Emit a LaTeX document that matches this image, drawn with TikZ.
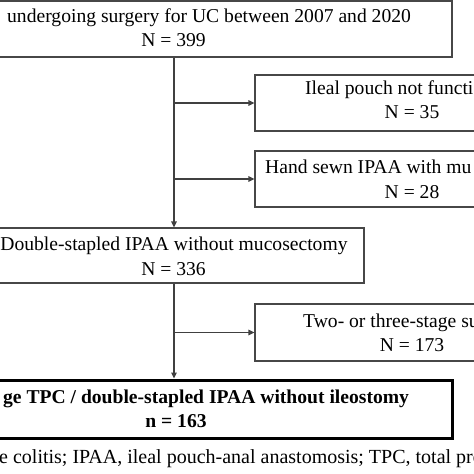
\documentclass[tikz,border=0pt]{standalone}
\usepackage{fontspec}
\setmainfont{Liberation Serif}
\usetikzlibrary{arrows.meta}
\begin{document}
\begin{tikzpicture}[x=1pt,y=-1pt,
  box/.style={draw=black!72,line width=1.2pt,rectangle,inner sep=0pt},
  boldbox/.style={draw=black,line width=3pt,rectangle,inner sep=0pt},
  txt/.style={inner sep=0pt,font=\fontsize{19.6}{23}\selectfont},
  btxt/.style={inner sep=0pt,font=\fontsize{19.6}{23}\selectfont\bfseries},
  captxt/.style={inner sep=0pt,font=\fontsize{20}{24}\selectfont},
  arr/.style={draw=black!75,line width=1.2pt,-{Triangle[length=6pt,width=5.5pt]}}]
\useasboundingbox (0,0) rectangle (474,474);
\begin{scope}
\clip (0,0) rectangle (474,474);
% boxes
\node[box,minimum width=556pt,minimum height=56pt] (top) at (174,29) {};
\node[box,minimum width=310pt,minimum height=56pt] (ileal) at (410,103) {};
\node[box,minimum width=310pt,minimum height=56pt] (hand) at (410,179) {};
\node[box,minimum width=380pt,minimum height=55pt] (dbl) at (174,255.5) {};
\node[box,minimum width=310pt,minimum height=57pt] (two) at (410,332.5) {};
\node[boldbox,minimum width=556pt,minimum height=58pt] (fin) at (174,409) {};
% texts
\node[txt,anchor=base west] (t1) at (7,22) {undergoing surgery for UC between 2007 and 2020};
\node[txt,anchor=base] (t2) at (173.5,46.7) {N = 399};
\node[txt,anchor=base west] (i1) at (305,94) {Ileal pouch not functi};
\node[txt,anchor=base] (i2) at (412,118.3) {N = 35};
\node[txt,anchor=base west] (h1) at (265,173.5) {Hand sewn IPAA with mu};
\node[txt,anchor=base] (h2) at (412,198) {N = 28};
\node[txt,anchor=base] (d1) at (174,250.5) {Double-stapled IPAA without mucosectomy};
\node[txt,anchor=base] (d2) at (173.5,275) {N = 336};
\node[txt,anchor=base west] (w1) at (303,327) {Two- or three-stage su};
\node[txt,anchor=base] (w2) at (412,351.7) {N = 173};
\node[btxt,anchor=base west] (f1) at (3,403) {ge TPC / double-stapled IPAA without ileostomy};
\node[btxt,anchor=base] (f2) at (176,427) {n = 163};
\node[captxt,anchor=base west] (cap) at (-1,463.5) {e colitis; IPAA, ileal pouch-anal anastomosis; TPC, total pro};
% connectors
\draw[arr] (top.south) -- (dbl.north);
\draw[arr] (top.south |- ileal.west) -- (ileal.west);
\draw[arr] (top.south |- hand.west) -- (hand.west);
\draw[arr] (dbl.south) -- (fin.north);
\draw[arr] (dbl.south |- two.west) -- (two.west);
\end{scope}
\end{tikzpicture}
\end{document}
